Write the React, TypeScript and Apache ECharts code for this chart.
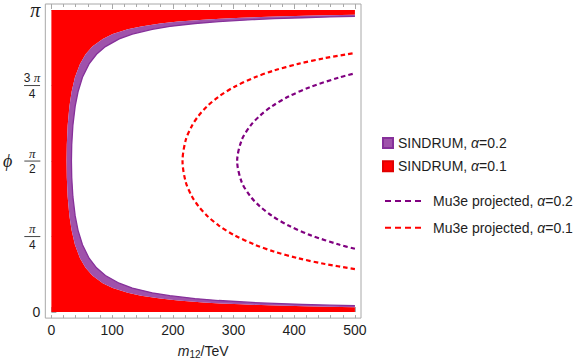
import React, { useEffect, useRef } from 'react';
import * as echarts from 'echarts';

const PI = Math.PI;

// axis ticks
const xMajorTicks = [0, 100, 200, 300, 400, 500];
const xMinorTicks = [0, 20, 40, 60, 80, 100, 120, 140, 160, 180, 200, 220, 240, 260, 280, 300, 320, 340, 360, 380, 400, 420, 440, 460, 480, 500];
const yTickValues = [0, PI / 4, PI / 2, (3 * PI) / 4, PI];
const yTickLabels = ['0', 'π/4', 'π/2', '3π/4', 'π'];

// series names
const names = ['SINDRUM, α=0.2', 'SINDRUM, α=0.1', 'Mu3e projected, α=0.2', 'Mu3e projected, α=0.1'];

// boundary of SINDRUM alpha=0.1 excluded region, [m12 (TeV), phi]
const sindrum01Edge: [number, number][] = [
  [500, 0.05], [454.8, 0.055], [416.9, 0.06], [357.4, 0.07], [312.8, 0.08], [278.2, 0.09], [250.4, 0.1],
  [208.8, 0.12], [179.2, 0.14], [147.8, 0.17], [125.8, 0.2], [101.0, 0.25], [84.6, 0.3], [67.4, 0.38],
  [56.3, 0.46], [47.1, 0.56], [38.8, 0.7], [33.3, 0.85], [29.7, 1.0], [26.8, 1.2], [25.4, 1.4], [25.0, 1.5708],
  [25.4, 1.7416], [26.8, 1.9416], [29.7, 2.1416], [33.3, 2.2916], [38.8, 2.4416], [47.1, 2.5816], [56.3, 2.6816],
  [67.4, 2.7616], [84.6, 2.8416], [101.0, 2.8916], [125.8, 2.9416], [147.8, 2.9716], [179.2, 3.0016],
  [208.8, 3.0216], [250.4, 3.0416], [278.2, 3.0516], [312.8, 3.0616], [357.4, 3.0716], [416.9, 3.0816],
  [454.8, 3.0866], [500, 3.0916],
];

// outer boundary of SINDRUM alpha=0.2 excluded region
const sindrum02Edge: [number, number][] = [
  [500, 0.066], [458.7, 0.072], [412.9, 0.08], [367.2, 0.09], [330.6, 0.1], [275.7, 0.12], [236.5, 0.14],
  [195.1, 0.17], [166.1, 0.2], [133.4, 0.25], [111.7, 0.3], [89.0, 0.38], [74.3, 0.46], [62.1, 0.56],
  [51.2, 0.7], [43.9, 0.85], [39.2, 1.0], [35.4, 1.2], [33.5, 1.4], [33.0, 1.5708],
  [33.5, 1.7416], [35.4, 1.9416], [39.2, 2.1416], [43.9, 2.2916], [51.2, 2.4416], [62.1, 2.5816],
  [74.3, 2.6816], [89.0, 2.7616], [111.7, 2.8416], [133.4, 2.8916], [166.1, 2.9416], [195.1, 2.9716],
  [236.5, 3.0016], [275.7, 3.0216], [330.6, 3.0416], [367.2, 3.0516], [412.9, 3.0616], [458.7, 3.0696],
  [500, 3.0756],
];

// Mu3e projected, alpha=0.1
const mu3e01: [number, number][] = [
  [500, 0.447], [450.6, 0.5], [406.6, 0.56], [366.3, 0.63], [335.3, 0.7], [301.1, 0.8], [275.8, 0.9],
  [256.7, 1.0], [242.4, 1.1], [231.8, 1.2], [221.4, 1.35], [216, 1.5708], [221.4, 1.7916], [231.8, 1.9416],
  [242.4, 2.0416], [256.7, 2.1416], [275.8, 2.2416], [301.1, 2.3416], [335.3, 2.4416], [366.3, 2.5116],
  [406.6, 2.5816], [450.6, 2.6416], [500, 2.6946],
];

// Mu3e projected, alpha=0.2
const mu3e02: [number, number][] = [
  [500, 0.658], [475.0, 0.7], [426.6, 0.8], [390.6, 0.9], [363.6, 1.0], [343.4, 1.1], [328.3, 1.2],
  [313.6, 1.35], [306, 1.5708], [313.6, 1.7916], [328.3, 1.9416], [343.4, 2.0416], [363.6, 2.1416],
  [390.6, 2.2416], [426.6, 2.3416], [475.0, 2.4416], [500, 2.4836],
];

const RED = '#ff0000';
const PURPLE_FILL = '#9f52ab';
const PURPLE_EDGE = '#86309a';
const PURPLE_LINE = '#800080';
const FRAME = '#a8a8a8';
const TEXT = '#1e1e1e';
const SANS = 'Liberation Sans, Arial, sans-serif';
const SERIF = 'Liberation Serif, Times New Roman, serif';

const X_MIN = -10;
const X_MAX = 510;
const Y_MIN = -0.02 * PI;
const Y_MAX = PI + 0.02 * PI;

function yLabel(v: number): string {
  let best = 0;
  for (let i = 0; i < yTickValues.length; i++) {
    if (Math.abs(yTickValues[i] - v) < Math.abs(yTickValues[best] - v)) best = i;
  }
  const t = yTickLabels[best];
  if (t === '0') return '{z|0}';
  if (t === 'π') return '{big|π}';
  const [num, den] = t.split('/');
  const numText = num.replace('π', '{p|π}').replace(/^(\d)/, '{n|$1 }');
  return numText + '\n{bar|}\n{n|' + den + '}';
}

export default function App() {
  const ref = useRef<HTMLDivElement>(null);
  useEffect(() => {
    if (!ref.current) return;
    const chart = echarts.init(ref.current, null, { renderer: 'svg' });

    const redPoly: [number, number][] = [[0, 0], [500, 0], ...sindrum01Edge, [500, PI], [0, PI]];
    const purplePoly: [number, number][] = [...sindrum02Edge, ...sindrum01Edge.slice().reverse()];

    const axisCommon = {
      type: 'value' as const,
      min: X_MIN,
      max: X_MAX,
      axisLine: { show: false },
      splitLine: { show: false },
    };

    const option: any = {
      animation: false,
      backgroundColor: '#ffffff',
      grid: {
        left: 45,
        top: 4,
        right: 220,
        bottom: 44.5,
        show: true,
        borderColor: FRAME,
        borderWidth: 1,
        backgroundColor: 'transparent',
      },
      xAxis: [
        {
          ...axisCommon,
          position: 'bottom',
          axisTick: { show: true, inside: true, length: 5, customValues: xMajorTicks, lineStyle: { color: FRAME } },
          axisLabel: {
            show: true,
            customValues: xMajorTicks,
            fontSize: 14,
            fontFamily: SANS,
            color: TEXT,
            margin: 5,
          },
          name: '{m|m}{s|12}{t|/TeV}',
          nameLocation: 'middle',
          nameGap: 23,
          nameTextStyle: {
            fontSize: 14,
            fontFamily: SANS,
            color: TEXT,
            rich: {
              m: { fontSize: 14, fontStyle: 'italic', fontFamily: SANS, color: TEXT, lineHeight: 16, verticalAlign: 'middle' },
              s: { fontSize: 10, fontFamily: SANS, color: TEXT, lineHeight: 16, padding: [7, 0, 0, 0], verticalAlign: 'bottom' },
              t: { fontSize: 14, fontFamily: SANS, color: TEXT, lineHeight: 16, verticalAlign: 'middle' },
            },
          },
        },
        {
          ...axisCommon,
          position: 'bottom',
          axisTick: { show: true, inside: true, length: 3, customValues: xMinorTicks, lineStyle: { color: FRAME } },
          axisLabel: { show: false },
        },
        {
          ...axisCommon,
          position: 'top',
          axisTick: { show: true, inside: true, length: 5, customValues: xMajorTicks, lineStyle: { color: FRAME } },
          axisLabel: { show: false },
        },
        {
          ...axisCommon,
          position: 'top',
          axisTick: { show: true, inside: true, length: 3, customValues: xMinorTicks, lineStyle: { color: FRAME } },
          axisLabel: { show: false },
        },
      ],
      yAxis: [
        {
          type: 'value',
          min: Y_MIN,
          max: Y_MAX,
          position: 'left',
          axisLine: { show: false },
          splitLine: { show: false },
          axisTick: { show: true, inside: true, length: 5, customValues: yTickValues, lineStyle: { color: FRAME } },
          axisLabel: {
            show: true,
            customValues: yTickValues,
            margin: 5,
            formatter: (v: number) => yLabel(v),
            rich: {
              z: { fontSize: 14, fontFamily: SANS, color: TEXT },
              big: { fontSize: 20, fontFamily: SERIF, fontStyle: 'italic', color: TEXT },
              p: { fontSize: 13, fontFamily: SERIF, fontStyle: 'italic', color: TEXT, lineHeight: 12, align: 'center' },
              n: { fontSize: 12, fontFamily: SANS, color: TEXT, lineHeight: 12, align: 'center' },
              bar: { width: 16, height: 1, lineHeight: 4, backgroundColor: '#444', align: 'center' },
            },
          },
          name: 'ϕ',
          nameLocation: 'middle',
          nameRotate: 0,
          nameGap: 33,
          nameTextStyle: { fontSize: 18, fontFamily: SERIF, fontStyle: 'italic', color: TEXT },
        },
      ],
      legend: [
        {
          data: [names[0], names[1]],
          orient: 'vertical',
          left: 377,
          top: 130,
          itemWidth: 10,
          itemHeight: 10,
          itemGap: 7.3,
          icon: 'rect',
          selectedMode: false,
          formatter: (n: string) => n.replace('α', '{a|α}'),
          textStyle: {
            fontSize: 14,
            fontFamily: SANS,
            color: TEXT,
            lineHeight: 16,
            rich: { a: { fontSize: 14, fontFamily: SANS, fontStyle: 'italic', color: TEXT, lineHeight: 16 } },
          },
        },
        {
          data: [names[2], names[3]],
          orient: 'vertical',
          left: 379,
          top: 188,
          itemWidth: 37,
          itemHeight: 14,
          itemGap: 10.7,
          selectedMode: false,
          itemStyle: { opacity: 0, borderWidth: 0 },
          lineStyle: { type: [6, 4], width: 2 },
          formatter: (n: string) => n.replace('α', '{a|α}'),
          textStyle: {
            fontSize: 14,
            fontFamily: SANS,
            color: TEXT,
            lineHeight: 16,
            padding: [0, 0, 0, 6],
            rich: { a: { fontSize: 14, fontFamily: SANS, fontStyle: 'italic', color: TEXT, lineHeight: 16 } },
          },
        },
      ],
      series: [
        {
          name: names[1],
          type: 'custom',
          xAxisIndex: 0,
          yAxisIndex: 0,
          data: [[0, 0]],
          itemStyle: { color: RED, borderColor: '#e00000', borderWidth: 0.5 },
          silent: true,
          renderItem: (_p: any, api: any) => ({
            type: 'polygon',
            shape: { points: redPoly.map((pt) => api.coord(pt)) },
            style: { fill: RED, stroke: 'none' },
          }),
        },
        {
          name: names[0],
          type: 'custom',
          xAxisIndex: 0,
          yAxisIndex: 0,
          data: [[0, 0]],
          itemStyle: { color: PURPLE_FILL, borderColor: PURPLE_EDGE, borderWidth: 1 },
          silent: true,
          renderItem: (_p: any, api: any) => ({
            type: 'group',
            children: [
              {
                type: 'polygon',
                shape: { points: purplePoly.map((pt) => api.coord(pt)) },
                style: { fill: PURPLE_FILL, stroke: 'none' },
              },
              {
                type: 'polyline',
                shape: { points: sindrum02Edge.map((pt) => api.coord(pt)) },
                style: { fill: 'none', stroke: PURPLE_EDGE, lineWidth: 1.3 },
              },
            ],
          }),
        },
        {
          name: names[2],
          type: 'line',
          xAxisIndex: 0,
          yAxisIndex: 0,
          data: mu3e02,
          symbol: 'none',
          showSymbol: false,
          smooth: 0.3,
          lineStyle: { color: PURPLE_LINE, width: 2.2, type: [4.5, 3] },
          itemStyle: { color: PURPLE_LINE },
        },
        {
          name: names[3],
          type: 'line',
          xAxisIndex: 0,
          yAxisIndex: 0,
          data: mu3e01,
          symbol: 'none',
          showSymbol: false,
          smooth: 0.3,
          lineStyle: { color: RED, width: 2.2, type: [4.5, 3] },
          itemStyle: { color: RED },
        },
      ],
    };

    chart.setOption(option);
    return () => chart.dispose();
  }, []);

  return <div ref={ref} style={{ position: 'fixed', left: 0, top: 0, width: 581, height: 364, background: '#fff' }} />;
}
